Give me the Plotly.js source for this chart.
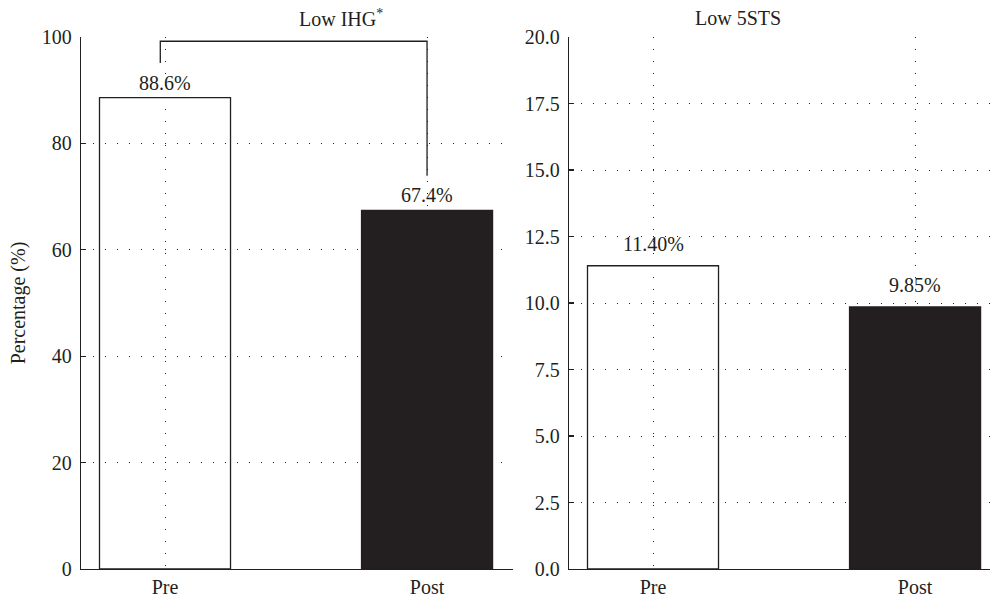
<!DOCTYPE html>
<html>
<head>
<meta charset="utf-8">
<script src="https://cdn.plot.ly/plotly-3.0.1.min.js"></script>
<style>
html,body{margin:0;padding:0;background:#fff;}
#chart{width:990px;height:597px;}
</style>
</head>
<body>
<div id="chart"></div>
<script>
// ---- data ----
var categories = ["Pre", "Post"];
var ihgValues = [88.6, 67.4];
var ihgLabels = ["88.6%", "67.4%"];
var stsValues = [11.40, 9.85];
var stsLabels = ["11.40%", "9.85%"];
var leftTitle = "Low IHG<sup>*</sup>";
var rightTitle = "Low 5STS";
var yTitle = "Percentage (%)";
var ihgTicks = [0, 20, 40, 60, 80, 100];
var stsTicks = [0, 2.5, 5, 7.5, 10, 12.5, 15, 17.5, 20];

// ---- styles ----
var ink = "#231f20";
var font = {family: "Liberation Serif, Times New Roman, serif", size: 20, color: ink};
var W = 990, H = 597;
var fills = ["rgba(255,255,255,0)", ink];

var traces = [
  {type: "bar", x: categories, y: ihgValues, xaxis: "x", yaxis: "y", width: 0.5,
   marker: {color: fills, line: {color: ink, width: 1.3}}, hoverinfo: "skip", showlegend: false},
  {type: "bar", x: categories, y: stsValues, xaxis: "x2", yaxis: "y2", width: 0.5,
   marker: {color: fills, line: {color: ink, width: 1.3}}, hoverinfo: "skip", showlegend: false}
];

var annotations = [];
categories.forEach(function (c, i) {
  annotations.push({xref: "x", yref: "y", x: c, y: ihgValues[i], text: ihgLabels[i], showarrow: false,
    yanchor: "bottom", yshift: 2, font: font});
  annotations.push({xref: "x2", yref: "y2", x: c, y: stsValues[i], text: stsLabels[i], showarrow: false,
    yanchor: "bottom", yshift: 9, font: font});
});
annotations.push({xref: "paper", yref: "paper", x: 297 / W, y: 1, yshift: 19, text: leftTitle,
  showarrow: false, yanchor: "middle", font: font});
annotations.push({xref: "paper", yref: "paper", x: 783 / W, y: 1, yshift: 19, text: rightTitle,
  showarrow: false, yanchor: "middle", font: font});

// significance bracket between Pre and Post (left panel)
var bracketTop = 99.2, legGap = 6.5;
var shapes = [{
  type: "path", xref: "x", yref: "y",
  path: "M " + (-0.018) + "," + (ihgValues[0] + legGap) +
        " L " + (-0.018) + "," + bracketTop +
        " L 1," + bracketTop +
        " L 1," + (ihgValues[1] + legGap),
  line: {color: ink, width: 1.3}
}];

var axisCommon = {
  showline: true, linecolor: ink, linewidth: 1.3, zeroline: false,
  showgrid: true, gridcolor: ink, gridwidth: 1, griddash: "1.3px,10.7px",
  tickfont: font, automargin: false, fixedrange: true
};

var layout = {
  width: W, height: H,
  margin: {l: 0, r: 0, t: 37, b: 28, pad: 0},
  paper_bgcolor: "#fff", plot_bgcolor: "#fff",
  font: font,
  showlegend: false,
  bargap: 0,
  xaxis: Object.assign({}, axisCommon, {domain: [81 / W, 513 / W], type: "category",
    categoryorder: "array", categoryarray: categories, range: [-0.3206, 1.328], ticks: "",
    anchor: "y"}),
  yaxis: Object.assign({}, axisCommon, {domain: [0, 1], range: [0, 100], tickvals: ihgTicks,
    ticktext: ihgTicks.map(String), ticks: "inside", ticklen: 5, tickcolor: ink, tickwidth: 1.3,
    ticklabelstandoff: 4,
    anchor: "x", title: {text: yTitle, font: font, standoff: 10}}),
  xaxis2: Object.assign({}, axisCommon, {domain: [569 / W, 1], type: "category",
    categoryorder: "array", categoryarray: categories, range: [-0.3206, 1.286], ticks: "",
    anchor: "y2"}),
  yaxis2: Object.assign({}, axisCommon, {domain: [0, 1], range: [0, 20], tickvals: stsTicks,
    ticktext: stsTicks.map(function (v) { return v.toFixed(1); }), ticks: "inside", ticklen: 5,
    ticklabelstandoff: 4,
    tickcolor: ink, tickwidth: 1.3, anchor: "x2"}),
  annotations: annotations,
  shapes: shapes
};

Plotly.newPlot("chart", traces, layout, {displayModeBar: false, staticPlot: true});
</script>
</body>
</html>
